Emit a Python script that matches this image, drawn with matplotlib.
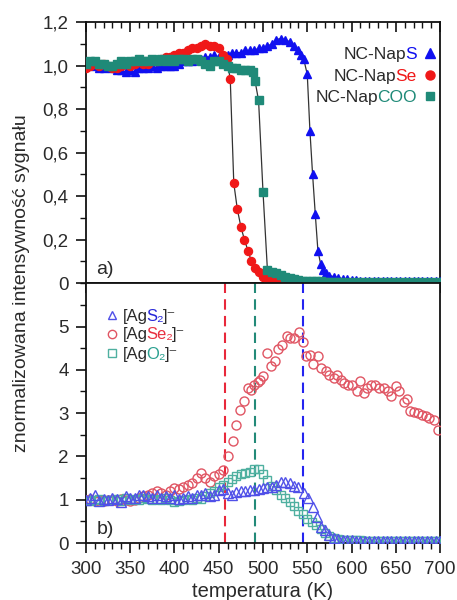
import numpy as np
import matplotlib
matplotlib.use("Agg")
import matplotlib.pyplot as plt
from matplotlib.ticker import MultipleLocator, FixedLocator, FuncFormatter, NullFormatter
from matplotlib.transforms import IdentityTransform

plt.rcParams['font.family'] = ['Liberation Sans', 'DejaVu Sans']

# ---------------- data: panel a ----------------
naps_T = [300, 305, 310, 315, 320, 325, 330, 335, 340, 345, 350, 355, 360, 365, 370, 375, 380, 385, 390, 395,
          400, 405, 410, 415, 420, 425, 430, 435, 440, 445, 450, 455, 460, 465, 470, 475, 480, 485, 490, 495,
          500, 505, 510, 515, 520, 525, 530, 535, 540, 543, 546, 550, 553, 556, 559, 562, 565, 568, 571, 575,
          580, 585, 590, 595, 600, 605, 610, 615, 620, 625, 630, 635, 640, 645, 650, 655, 660, 665, 670, 675,
          680, 685, 690, 695, 700]
naps_I = [1.00, 1.01, 1.00, 0.99, 0.99, 1.00, 0.99, 0.98, 0.98, 0.97, 0.98, 0.97, 0.99, 0.99, 0.99, 1.00, 0.99, 1.00, 1.00, 1.00,
          1.00, 1.01, 1.02, 1.02, 1.02, 1.03, 1.03, 1.04, 1.04, 1.05, 1.04, 1.05, 1.05, 1.06, 1.06, 1.06, 1.07, 1.07, 1.07, 1.08,
          1.08, 1.09, 1.10, 1.12, 1.125, 1.12, 1.11, 1.09, 1.07, 1.05, 1.03, 0.96, 0.70, 0.50, 0.32, 0.15, 0.09, 0.06, 0.045, 0.035,
          0.03, 0.025, 0.02, 0.02, 0.015, 0.015, 0.012, 0.012, 0.01, 0.01, 0.01, 0.01, 0.01, 0.01, 0.01, 0.01, 0.01, 0.01, 0.01, 0.01,
          0.01, 0.01, 0.01, 0.01, 0.01]

napse_T = [300, 305, 310, 315, 320, 325, 330, 335, 340, 345, 350, 355, 360, 365, 370, 375, 380, 385, 390, 395,
           400, 405, 410, 415, 420, 425, 430, 435, 440, 445, 450, 455, 459, 463, 467, 471, 475, 479, 483, 487,
           491, 495, 500, 505, 510, 515, 520, 525, 530, 535, 540, 545, 550, 555, 560, 565, 570, 575, 580, 590,
           600, 610, 620, 630, 640, 650, 660, 670, 680, 690, 700]
napse_I = [0.99, 1.00, 1.01, 1.00, 1.01, 1.00, 0.99, 0.99, 1.00, 1.01, 1.00, 1.01, 1.02, 1.01, 1.01, 1.02, 1.02, 1.03, 1.04, 1.04,
           1.05, 1.06, 1.06, 1.07, 1.08, 1.08, 1.09, 1.10, 1.09, 1.09, 1.08, 1.05, 1.03, 0.94, 0.46, 0.34, 0.26, 0.20, 0.15, 0.10,
           0.07, 0.05, 0.03, 0.02, 0.015, 0.01, 0.01, 0.008, 0.006, 0.005, 0.005, 0.004, 0.004, 0.003, 0.003, 0.003, 0.003, 0.003, 0.003, 0.003,
           0.003, 0.003, 0.003, 0.003, 0.003, 0.003, 0.003, 0.003, 0.003, 0.003, 0.003]

napcoo_T = [300, 305, 310, 315, 320, 325, 330, 335, 340, 345, 350, 355, 360, 365, 370, 375, 380, 385, 390, 395,
            400, 405, 410, 415, 420, 425, 430, 435, 440, 445, 450, 455, 460, 465, 470, 475, 480, 485, 489, 491,
            495, 500, 505, 510, 515, 520, 525, 530, 535, 540, 545, 550, 555, 560, 565, 570, 575, 580, 585, 590,
            600, 610, 620, 630, 640, 650, 660, 670, 680, 690, 700]
napcoo_I = [1.01, 1.02, 1.02, 1.01, 1.01, 1.00, 1.00, 1.01, 1.02, 1.01, 1.02, 1.02, 1.03, 1.02, 1.02, 1.03, 1.02, 1.03, 1.02, 1.03,
            1.02, 1.03, 1.03, 1.02, 1.03, 1.03, 1.02, 1.01, 1.00, 1.02, 1.02, 1.01, 1.00, 0.99, 0.99, 0.98, 0.98, 0.98, 0.97, 0.93,
            0.84, 0.42, 0.06, 0.05, 0.045, 0.04, 0.03, 0.025, 0.02, 0.015, 0.012, 0.01, 0.01, 0.008, 0.008, 0.006, 0.006, 0.005, 0.005, 0.005,
            0.005, 0.005, 0.005, 0.005, 0.005, 0.005, 0.005, 0.005, 0.005, 0.005, 0.005]

# ---------------- data: panel b ----------------
ags2_T = [300, 305, 310, 315, 320, 325, 330, 335, 340, 345, 350, 355, 360, 365, 370, 375, 380, 385, 390, 395,
          400, 405, 410, 415, 420, 425, 430, 435, 440, 445, 450, 455, 460, 465, 470, 475, 480, 485, 490, 495,
          500, 505, 510, 515, 520, 525, 530, 535, 540, 546, 551, 556, 561, 566, 570, 575, 580, 585, 590, 595,
          600, 605, 610, 615, 620, 625, 630, 635, 640, 645, 650, 655, 660, 665, 670, 675, 680, 685, 690, 695, 700]
ags2_I = [1.00, 1.05, 1.10, 0.98, 1.02, 1.00, 1.05, 1.02, 0.95, 1.08, 1.05, 1.03, 1.10, 1.12, 1.08, 1.05, 1.10, 1.05, 1.08, 1.05,
          1.10, 1.02, 1.05, 1.08, 1.05, 1.10, 1.12, 1.15, 1.08, 1.10, 1.22, 1.25, 1.15, 1.12, 1.18, 1.20, 1.20, 1.22, 1.22, 1.25,
          1.28, 1.30, 1.30, 1.35, 1.42, 1.40, 1.38, 1.32, 1.30, 1.16, 1.04, 0.84, 0.61, 0.38, 0.30, 0.19, 0.12, 0.09, 0.07, 0.06,
          0.06, 0.05, 0.05, 0.05, 0.05, 0.05, 0.05, 0.05, 0.05, 0.05, 0.05, 0.05, 0.05, 0.05, 0.05, 0.05, 0.05, 0.05, 0.05, 0.05, 0.05]

agse2_T = [300, 305, 310, 315, 320, 325, 330, 335, 340, 345, 350, 355, 360, 365, 370, 375, 380, 385, 390, 395,
           400, 405, 410, 415, 420, 425, 430, 435, 440, 445, 450, 455, 461, 466, 470, 474, 478, 483, 486, 490,
           494, 497, 500, 505, 509, 513, 517, 522, 527, 531, 535, 541, 545, 548, 553, 557, 562, 565, 571, 575,
           580, 584, 588, 592, 596, 601, 606, 610, 614, 618, 622, 627, 631, 637, 641, 645, 650, 654, 659, 663,
           666, 671, 675, 680, 684, 688, 693, 698]
agse2_I = [1.00, 1.02, 0.98, 1.00, 0.97, 0.99, 1.00, 0.98, 1.02, 1.00, 0.98, 1.00, 1.05, 1.08, 1.10, 1.15, 1.19, 1.16, 1.12, 1.20,
           1.27, 1.25, 1.30, 1.35, 1.38, 1.50, 1.62, 1.50, 1.42, 1.54, 1.60, 1.69, 2.00, 2.35, 2.73, 3.08, 3.27, 3.58, 3.54, 3.66,
           3.72, 3.77, 3.85, 4.39, 4.08, 4.20, 4.47, 4.58, 4.78, 4.74, 4.74, 4.87, 4.64, 4.31, 4.35, 4.14, 4.31, 4.04, 3.97, 3.87,
           3.81, 3.89, 3.77, 3.70, 3.66, 3.66, 3.50, 3.75, 3.46, 3.58, 3.66, 3.66, 3.58, 3.58, 3.50, 3.40, 3.63, 3.50, 3.25, 3.33,
           3.04, 3.02, 3.00, 2.96, 2.94, 2.89, 2.85, 2.62]

ago2_T = [300, 305, 310, 315, 320, 325, 330, 335, 340, 345, 350, 355, 360, 365, 370, 375, 380, 385, 390, 395,
          400, 405, 410, 415, 420, 425, 430, 435, 440, 445, 450, 455, 460, 465, 470, 475, 480, 485, 490, 495,
          500, 505, 510, 515, 520, 525, 530, 535, 540, 545, 550, 555, 560, 565, 570, 575, 580, 585, 590, 595,
          600, 605, 610, 615, 620, 625, 630, 635, 640, 645, 650, 655, 660, 665, 670, 675, 680, 685, 690, 695, 700]
ago2_I = [1.00, 0.98, 1.00, 1.02, 0.98, 1.00, 1.00, 1.02, 0.98, 1.03, 1.00, 1.02, 1.00, 1.05, 1.02, 1.00, 1.02, 1.00, 1.05, 1.00,
          0.95, 0.97, 1.00, 1.02, 1.00, 1.05, 1.02, 1.08, 1.15, 1.20, 1.30, 1.35, 1.42, 1.48, 1.55, 1.60, 1.62, 1.65, 1.72, 1.70,
          1.60, 1.45, 1.32, 1.22, 1.12, 1.03, 0.95, 0.85, 0.75, 0.66, 0.56, 0.49, 0.42, 0.32, 0.24, 0.17, 0.12, 0.10, 0.08, 0.07,
          0.06, 0.06, 0.06, 0.05, 0.05, 0.05, 0.05, 0.05, 0.05, 0.05, 0.05, 0.05, 0.05, 0.05, 0.05, 0.05, 0.05, 0.05, 0.05, 0.05, 0.05]

vlines_T = [457, 491, 545]

# ---------------- styling ----------------
BLUE = '#1010f0'
RED = '#f01818'
TEAL = '#1f8a78'
BLUE_O = '#5050e8'
RED_O = '#e05563'
TEAL_O = '#4fb0a0'
TXT = '#2a2a2a'

fig = plt.figure(figsize=(4.57, 6.0), dpi=100)
ax1 = fig.add_axes([0.188, 0.528, 0.775, 0.435])
ax2 = fig.add_axes([0.188, 0.095, 0.775, 0.433])

comma = FuncFormatter(lambda v, p: '0' if abs(v) < 1e-9 else ('%.1f' % v).replace('.', ','))

# panel a
for T, I, m, c, ms in [(naps_T, naps_I, '^', BLUE, 6.0),
                       (napse_T, napse_I, 'o', RED, 5.8),
                       (napcoo_T, napcoo_I, 's', TEAL, 5.2)]:
    ax1.plot(T, I, '-', color='#333333', lw=0.9, zorder=2)
    ax1.plot(T, I, ls='none', marker=m, color=c, ms=ms, mec=c, zorder=3)

ax1.set_xlim(300, 700)
ax1.set_ylim(0, 1.2)
ax1.yaxis.set_major_locator(FixedLocator([0, 0.2, 0.4, 0.6, 0.8, 1.0, 1.2]))
ax1.yaxis.set_minor_locator(MultipleLocator(0.1))
ax1.yaxis.set_major_formatter(comma)
ax1.text(0.03, 0.035, 'a)', transform=ax1.transAxes, fontsize=14, color=TXT)

# panel b
ax2.axvline(vlines_T[0], color='#e8283a', ls=(0, (5, 3)), lw=1.5, zorder=1)
ax2.axvline(vlines_T[1], color='#238a78', ls=(0, (5, 3)), lw=1.5, zorder=1)
ax2.axvline(vlines_T[2], color='#2424f0', ls=(0, (5, 3)), lw=1.5, zorder=1)

ax2.plot(agse2_T, agse2_I, ls='none', marker='o', mfc='none', mec=RED_O, mew=1.0, ms=6.5, zorder=3)
ax2.plot(ago2_T, ago2_I, ls='none', marker='s', mfc='none', mec=TEAL_O, mew=1.0, ms=6.0, zorder=3)
ax2.plot(ags2_T, ags2_I, ls='none', marker='^', mfc='none', mec=BLUE_O, mew=1.0, ms=6.5, zorder=3)

ax2.set_xlim(300, 700)
ax2.set_ylim(0, 6)
ax2.yaxis.set_major_locator(FixedLocator([0, 1, 2, 3, 4, 5]))
ax2.yaxis.set_minor_locator(MultipleLocator(0.5))
ax2.text(0.03, 0.035, 'b)', transform=ax2.transAxes, fontsize=14, color=TXT)
ax2.set_xlabel('temperatura (K)', fontsize=14.5, color=TXT, labelpad=3)

for ax in (ax1, ax2):
    ax.xaxis.set_major_locator(MultipleLocator(50))
    ax.xaxis.set_minor_locator(MultipleLocator(10))
    for s in ax.spines.values():
        s.set_linewidth(1.3)
        s.set_color('#111111')
    ax.tick_params(which='major', length=7, width=1.2, labelsize=13.5, labelcolor=TXT, color='#111111')
    ax.tick_params(which='minor', length=4, width=1.0, color='#111111')
    ax.tick_params(axis='y', which='both', left=True, right=False, direction='out')
    ax.tick_params(axis='y', which='major', pad=5.5)

# panel a: top ticks inward, no bottom ticks on the main x axis
ax1.tick_params(axis='x', which='both', top=True, bottom=False, labelbottom=False, direction='in')
# ticks hanging below the boundary between panels
sec = ax1.secondary_xaxis('bottom')
sec.xaxis.set_major_locator(MultipleLocator(50))
sec.xaxis.set_minor_locator(MultipleLocator(10))
sec.xaxis.set_major_formatter(NullFormatter())
sec.tick_params(which='major', length=7, width=1.2, direction='out', color='#111111')
sec.tick_params(which='minor', length=4, width=1.0, direction='out', color='#111111')
sec.spines['bottom'].set_visible(False)
# panel b: bottom ticks outward
ax2.tick_params(axis='x', which='both', top=False, bottom=True, direction='out')
ax2.tick_params(axis='x', which='major', pad=6)

fig.text(0.047, 0.528, 'znormalizowana intensywność sygnału', rotation=90,
         va='center', ha='center', fontsize=14, color=TXT)

# ---- multi-coloured legend texts ----
fig.canvas.draw()
renderer = fig.canvas.get_renderer()
ID = IdentityTransform()


def width_px(s, fs):
    t = fig.text(0, 0, s, transform=ID, fontsize=fs)
    w = t.get_window_extent(renderer).width
    t.remove()
    return w


NUDGE = 1.2  # pixels, compensates integer rounding of glyph placement

# legend panel a (right-aligned)
leg_a = [('S', '^', BLUE, 0.881, 6.5), ('Se', 'o', RED, 0.797, 6.5), ('COO', 's', TEAL, 0.716, 6.0)]
FS_A = 12.5
for part, m, c, yy, ms in leg_a:
    xr, yc = ax1.transAxes.transform((0.937, yy))
    yb = yc - 6.0
    wfull = width_px('NC-Nap' + part, FS_A)
    fig.text(xr - NUDGE, yb, part, transform=ID, ha='right', va='baseline', fontsize=FS_A, color=c)
    fig.text(xr - wfull, yb, 'NC-Nap', transform=ID, ha='left', va='baseline', fontsize=FS_A, color=TXT)
    ax1.plot([0.972], [yy], transform=ax1.transAxes, marker=m, color=c, ms=ms, ls='none', clip_on=False)

# legend panel b (left-aligned)
leg_b = [('S', '^', BLUE_O, '#2828d8', 0.877), ('Se', 'o', RED_O, '#e83040', 0.805), ('O', 's', TEAL_O, '#2aa090', 0.731)]
FS_B = 12
for part, m, mc, tc, yy in leg_b:
    xl, yc = ax2.transAxes.transform((0.104, yy))
    yb = yc - 5.5
    p1, p2, p3 = '[Ag', part + '\u2082', ']\u207b'
    w12 = width_px(p1 + p2, FS_B)
    w123 = width_px(p1 + p2 + p3, FS_B)
    fig.text(xl, yb, p1, transform=ID, ha='left', va='baseline', fontsize=FS_B, color=TXT)
    fig.text(xl + w12 - NUDGE, yb, p2, transform=ID, ha='right', va='baseline', fontsize=FS_B, color=tc)
    fig.text(xl + w123 - 2 * NUDGE, yb, p3, transform=ID, ha='right', va='baseline', fontsize=FS_B, color=TXT)
    ax2.plot([0.073], [yy], transform=ax2.transAxes, marker=m, mfc='none', mec=mc, mew=1.0,
             ms=6, ls='none', clip_on=False)

fig.savefig('out.png', dpi=100)
